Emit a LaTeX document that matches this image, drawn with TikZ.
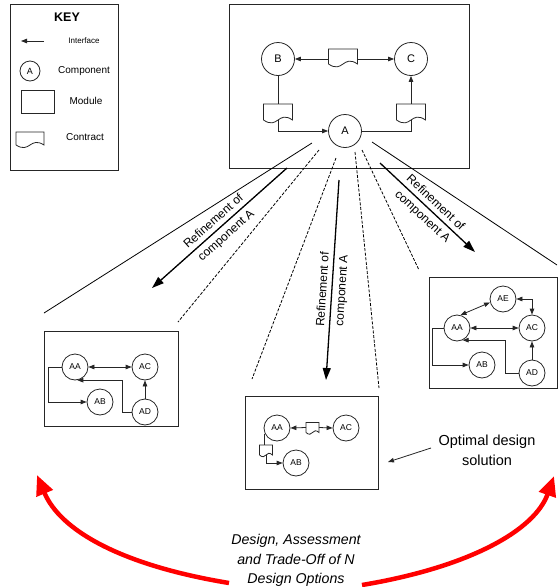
\documentclass[tikz,border=0pt]{standalone}
\usepackage{fontspec}
\setmainfont{Liberation Sans}
\usetikzlibrary{arrows.meta,calc}

% outline of a "contract" (document) symbol drawn round an empty node:
% straight top and sides, wavy bottom edge; #2 sets the depth of the wave
\newcommand\docoutline[2]{%
  \draw[wire] (#1.south west) -- (#1.north west) -- (#1.north east) -- (#1.south east)
    .. controls ($(#1.south)+(0,-#2)$) and ($(#1.south)+(0,#2)$) .. (#1.south west);}

\tikzset{
  wire/.style={line width=0.8pt, draw=black!85},
  tip/.style={-{Triangle[length=6pt,width=4.5pt]}},
  both/.style={{Triangle[length=6pt,width=4.5pt]}-{Triangle[length=6pt,width=4.5pt]}},
  fan/.style={line width=0.8pt},
  fandash/.style={line width=0.8pt, dash pattern=on 3pt off 1.6pt},
  refarrow/.style={line width=1.3pt, -{Triangle[length=12pt,width=8pt]}},
  redarc/.style={draw=red, line width=4.5pt, -{Triangle[length=20pt,width=17pt]}},
  module/.style={draw=black!85, line width=0.9pt, inner sep=0pt},
  comp/.style={circle, draw=black!85, line width=0.8pt, minimum size=#1, inner sep=0pt},
  bigc/.style={comp=33, font=\fontsize{11}{13}\selectfont},
  smallc/.style={comp=26, font=\fontsize{8.5}{10}\selectfont},
  docnode/.style={inner sep=0pt, outer sep=0pt},
  keytext/.style={font=\fontsize{10}{12}\selectfont},
  lab/.style={font=\fontsize{12}{19}\selectfont, inner sep=0pt, align=center, sloped},
}

\begin{document}
\begin{tikzpicture}[x=1pt, y=-1pt]
\useasboundingbox (0,0) rectangle (559,587);

% ---------------- key ----------------
\node[module, minimum width=108, minimum height=166] (key) at (64,87) {};
\node[font=\bfseries\fontsize{12.5}{14}\selectfont] (keyt) at (67,17) {KEY};
\coordinate (ifs) at (44,41);
\coordinate (ife) at (21,41);
\draw[wire, tip] (ifs) -- (ife);
\node[font=\fontsize{8}{10}\selectfont] (ift) at (84,41) {Interface};
\node[comp=20, font=\fontsize{9}{10}\selectfont] (kA) at (30,71) {A};
\node[keytext] (kct) at (84,71) {Component};
\node[module, line width=0.8pt, minimum width=33, minimum height=23] (kmod) at (37.5,101.5) {};
\node[keytext] (kmt) at (86,101) {Module};
\node[docnode, minimum width=28, minimum height=13] (kdoc) at (30,138.5) {};
\docoutline{kdoc}{9}
\node[keytext] (kdt) at (85,137) {Contract};

% ---------------- top-level module ----------------
\node[module, minimum width=240, minimum height=164] (main) at (349,86) {};
\node[bigc] (B) at (278,59) {B};
\node[bigc] (C) at (411,59) {C};
\node[bigc] (A) at (345,131) {A};
\node[docnode, minimum width=29, minimum height=15] (ct) at (343,56.5) {};
\docoutline{ct}{10}
\draw[wire, tip] (ct.west |- B.east) -- (B.east);
\draw[wire, tip] (ct.east |- C.west) -- (C.west);
\node[docnode, minimum width=29, minimum height=16] (cl) at (278,112) {};
\docoutline{cl}{10}
\node[docnode, minimum width=29, minimum height=16] (cr) at (411,112) {};
\docoutline{cr}{10}
\draw[wire] (B.south) -- (cl.north);
\draw[wire, tip] (cl.south) |- (A.west);
\draw[wire] (A.east) -| (cr.south);
\draw[wire, tip] (cr.north) -- (C.south);

% ---------------- fan of refinement lines ----------------
\coordinate (f1s) at (312,143);  \coordinate (f1e) at (44,313);
\coordinate (f2s) at (319,150);  \coordinate (f2e) at (178,322);
\coordinate (f3s) at (336,158);  \coordinate (f3e) at (252,379);
\coordinate (f4s) at (355,152);  \coordinate (f4e) at (379,388);
\coordinate (f5s) at (362,150);  \coordinate (f5e) at (419,270);
\coordinate (f6s) at (372,142);  \coordinate (f6e) at (557,265);
\draw[fan] (f1s) -- (f1e);
\draw[fandash] (f2s) -- (f2e);
\draw[fandash] (f3s) -- (f3e);
\draw[fandash] (f4s) -- (f4e);
\draw[fandash] (f5s) -- (f5e);
\draw[fan] (f6s) -- (f6e);

% the three refinement arrows run between the two lines of their labels
\coordinate (r1s) at (287,168);  \coordinate (r1e) at (152,288);
\coordinate (r2s) at (339,180);  \coordinate (r2e) at (326,380);
\coordinate (r3s) at (380,163);  \coordinate (r3e) at (475,252);
\draw[refarrow] (r1s) -- node[lab, pos=0.5, yshift=-1pt] (r1a) {Refinement of\\component A} (r1e);
\draw[refarrow] (r2s) -- node[lab, pos=0.55, yshift=-1pt] (r2a) {Refinement of\\component A} (r2e);
\draw[refarrow] (r3s) -- node[lab, pos=0.52, yshift=-1pt] (r3a) {Refinement of\\component A} (r3e);

% ---------------- option 1 ----------------
\node[module, minimum width=134, minimum height=95] (lb) at (111,378.5) {};
\node[smallc] (lAA) at (75,367) {AA};
\node[smallc] (lAC) at (145,367) {AC};
\node[smallc] (lAB) at (100,402) {AB};
\node[smallc] (lAD) at (145,412) {AD};
\draw[wire, both] (lAA) -- (lAC);
\draw[wire, tip] (lAD) -- (lAC);
\draw[wire, tip] (lAD.west) -| ($(lAA.-80)+(45,0)$) -- (lAA.-80);
\draw[wire, tip] (lAA.west) -- ++(-13,0) |- (lAB.west);

% ---------------- option 2 (optimal) ----------------
\node[module, minimum width=133, minimum height=93] (mb) at (311.5,442.5) {};
\node[smallc] (mAA) at (277,428) {AA};
\node[smallc] (mAC) at (346,428) {AC};
\node[smallc] (mAB) at (296,463) {AB};
\node[docnode, minimum width=13, minimum height=10] (mc) at (312.5,427.5) {};
\docoutline{mc}{6}
\draw[wire, tip] (mc.west) -- (mAA.east);
\draw[wire, tip] (mc.east) -- (mAC.west);
\node[docnode, minimum width=13, minimum height=10] (ml) at (266,450) {};
\docoutline{ml}{6}
\draw[wire] (mAA.205) -- (mAA.205 |- ml.north);
\draw[wire, tip] (ml.south) |- (mAB.west);

\node[font=\fontsize{14.5}{20}\selectfont, align=center] (optt) at (487,450) {Optimal design\\solution};
\coordinate (opts) at (431,448);
\coordinate (opte) at (388,462);
\draw[wire, tip] (opts) -- (opte);

% ---------------- option 3 ----------------
\node[module, minimum width=128, minimum height=111] (rb) at (493,332.5) {};
\node[smallc] (rAE) at (503,299) {AE};
\node[smallc] (rAA) at (457,328) {AA};
\node[smallc] (rAC) at (532,328) {AC};
\node[smallc] (rAB) at (482,365) {AB};
\node[smallc] (rAD) at (532,373) {AD};
\draw[wire, both] (rAA.75) -- (rAE.195);
\draw[wire, both] (rAE.east) -| (rAC.north);
\draw[wire, both] (rAA) -- (rAC);
\draw[wire, tip] (rAD) -- (rAC);
\draw[wire, tip] (rAD.west) -| ($(rAA.-65)+(43,0)$) -- (rAA.-65);
\draw[wire, tip] (rAA.west) -- ++(-11,0) |- (rAB.west);

% ---------------- design / assessment loop ----------------
\node[font=\itshape\fontsize{14.2}{19.5}\selectfont, align=center] (loopt) at (296,560.5)
  {Design, Assessment\\and Trade-Off of N\\Design Options};
\coordinate (la) at (229,583);  \coordinate (lt) at (37,475);
\coordinate (ra) at (362,585);  \coordinate (rt) at (554,476);
\draw[redarc] (la) .. controls (120,565) and (60,530) .. (lt);
\draw[redarc] (ra) .. controls (470,567) and (535,530) .. (rt);
\end{tikzpicture}
\end{document}
